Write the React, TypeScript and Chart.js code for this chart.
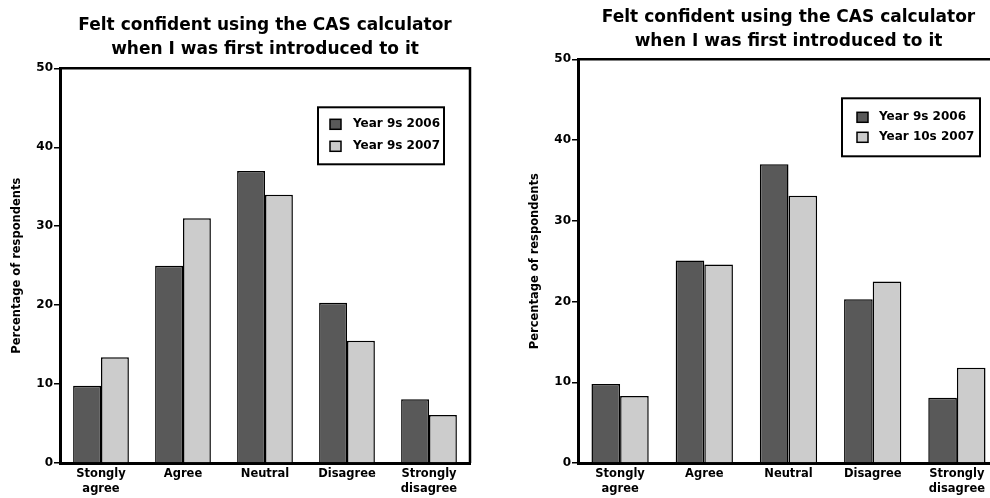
import React, { useEffect, useRef } from "react";
import { Chart, registerables } from "chart.js";

Chart.register(...registerables);

const categories: string[][] = [["Stongly", "agree"], ["Agree"], ["Neutral"], ["Disagree"], ["Strongly", "disagree"]];
const titleLines = ["Felt confident using the CAS calculator", "when I was first introduced to it"];
const yAxisTitle = "Percentage of respondents";
const yTicks = [0, 10, 20, 30, 40, 50];

const leftLabels = ["Year 9s 2006", "Year 9s 2007"];
const leftYear9s2006 = [9.8, 25, 37, 20.3, 8.1];
const leftYear9s2007 = [13.4, 31, 34, 15.5, 6.1];

const rightLabels = ["Year 9s 2006", "Year 10s 2007"];
const rightYear9s2006 = [9.8, 25.1, 37, 20.3, 8.1];
const rightYear10s2007 = [8.3, 24.6, 33.1, 22.5, 11.8];

const FONT = "'DejaVu Sans', 'Liberation Sans', Arial, sans-serif";
const DARK = "#595959";
const LIGHT = "#cccccc";

const framePlugin = {
  id: "frameBox",
  afterDraw(chart: any) {
    const { ctx, chartArea } = chart;
    ctx.save();
    ctx.strokeStyle = "#000";
    ctx.lineWidth = 2.5;
    ctx.beginPath();
    ctx.moveTo(chartArea.left, chartArea.top);
    ctx.lineTo(chartArea.right, chartArea.top);
    ctx.lineTo(chartArea.right, chartArea.bottom);
    ctx.stroke();
    ctx.restore();
  },
};

const boxLegendPlugin = {
  id: "boxLegend",
  afterDraw(chart: any, _args: any, opts: any) {
    const { ctx, chartArea } = chart;
    const x = chartArea.right - opts.rightOffset - opts.width;
    const y = chartArea.top + opts.topOffset;
    ctx.save();
    ctx.fillStyle = "#fff";
    ctx.fillRect(x, y, opts.width, opts.height);
    ctx.strokeStyle = "#000";
    ctx.lineWidth = 2;
    ctx.strokeRect(x, y, opts.width, opts.height);
    ctx.font = `bold 12px ${FONT}`;
    ctx.textBaseline = "middle";
    chart.data.datasets.forEach((ds: any, i: number) => {
      const cy = y + opts.firstRow + i * opts.rowGap;
      ctx.fillStyle = ds.backgroundColor;
      ctx.fillRect(x + opts.swatchX, cy - 5, 11, 10);
      ctx.lineWidth = 1.5;
      ctx.strokeRect(x + opts.swatchX, cy - 5, 11, 10);
      ctx.fillStyle = "#000";
      ctx.fillText(ds.label, x + opts.textX, cy);
    });
    ctx.restore();
  },
};

type PanelProps = {
  labels: string[];
  dark: number[];
  light: number[];
  left: number;
  width: number;
  yWidth: number;
  padding: { top: number; right: number; bottom: number; left: number };
  titlePad: { top: number; bottom: number };
  legend: any;
};

function Panel(p: PanelProps) {
  const ref = useRef<HTMLCanvasElement | null>(null);
  useEffect(() => {
    if (!ref.current) return;
    const chart = new Chart(ref.current, {
      type: "bar",
      data: {
        labels: categories as any,
        datasets: [
          { label: p.labels[0], data: p.dark, backgroundColor: DARK, borderColor: "#000", borderWidth: 1.5 },
          { label: p.labels[1], data: p.light, backgroundColor: LIGHT, borderColor: "#000", borderWidth: 1.5 },
        ],
      },
      options: {
        animation: false,
        responsive: false,
        maintainAspectRatio: false,
        layout: { padding: p.padding },
        datasets: { bar: { categoryPercentage: 0.68, barPercentage: 1 } },
        plugins: {
          legend: { display: false },
          tooltip: { enabled: false },
          title: {
            display: true,
            fullSize: false,
            text: titleLines,
            color: "#000",
            font: { family: FONT, size: 17, weight: "bold", lineHeight: 1.45 },
            padding: p.titlePad,
          },
          boxLegend: p.legend,
        } as any,
        scales: {
          x: {
            grid: { display: false, drawTicks: false },
            border: { display: true, color: "#000", width: 3 },
            ticks: { color: "#000", font: { family: FONT, size: 11.5, weight: "bold", lineHeight: 1.3 }, maxRotation: 0, padding: 3 },
          },
          y: {
            min: 0,
            max: 50,
            afterFit: (s: any) => { s.width = p.yWidth; },
            afterBuildTicks: (s: any) => { s.ticks = yTicks.map((v) => ({ value: v })); },
            grid: { drawOnChartArea: false, drawTicks: true, tickLength: 6, color: "#000", lineWidth: 1.5 },
            border: { display: true, color: "#000", width: 3 },
            ticks: { color: "#000", font: { family: FONT, size: 12, weight: "bold" }, padding: 1 },
            title: {
              display: true,
              text: yAxisTitle,
              color: "#000",
              font: { family: FONT, size: 11.5, weight: "bold" },
              padding: 0,
            },
          },
        },
      },
      plugins: [framePlugin, boxLegendPlugin],
    });
    return () => chart.destroy();
  }, []);
  return (
    <div style={{ position: "absolute", left: p.left, top: 0, width: p.width, height: 498 }}>
      <canvas ref={ref} width={p.width} height={498} style={{ width: p.width, height: 498, display: "block" }} />
    </div>
  );
}

export default function App() {
  return (
    <div style={{ position: "fixed", left: 0, top: 0, width: 990, height: 498, overflow: "hidden", background: "#fff" }}>
      <Panel
        labels={leftLabels}
        dark={leftYear9s2006}
        light={leftYear9s2007}
        left={0}
        width={480}
        yWidth={50}
        padding={{ top: 0, right: 10, bottom: -1, left: 10 }}
        titlePad={{ top: 13, bottom: 6 }}
        legend={{ rightOffset: 26, topOffset: 39, width: 126, height: 57, firstRow: 17, rowGap: 22, swatchX: 12, textX: 35 }}
      />
      <Panel
        labels={rightLabels}
        dark={rightYear9s2006}
        light={rightYear10s2007}
        left={500}
        width={500}
        yWidth={50}
        padding={{ top: 0, right: 1, bottom: -1, left: 28 }}
        titlePad={{ top: 5, bottom: 5 }}
        legend={{ rightOffset: 19, topOffset: 39, width: 138, height: 58, firstRow: 19, rowGap: 20, swatchX: 15, textX: 37 }}
      />
    </div>
  );
}
